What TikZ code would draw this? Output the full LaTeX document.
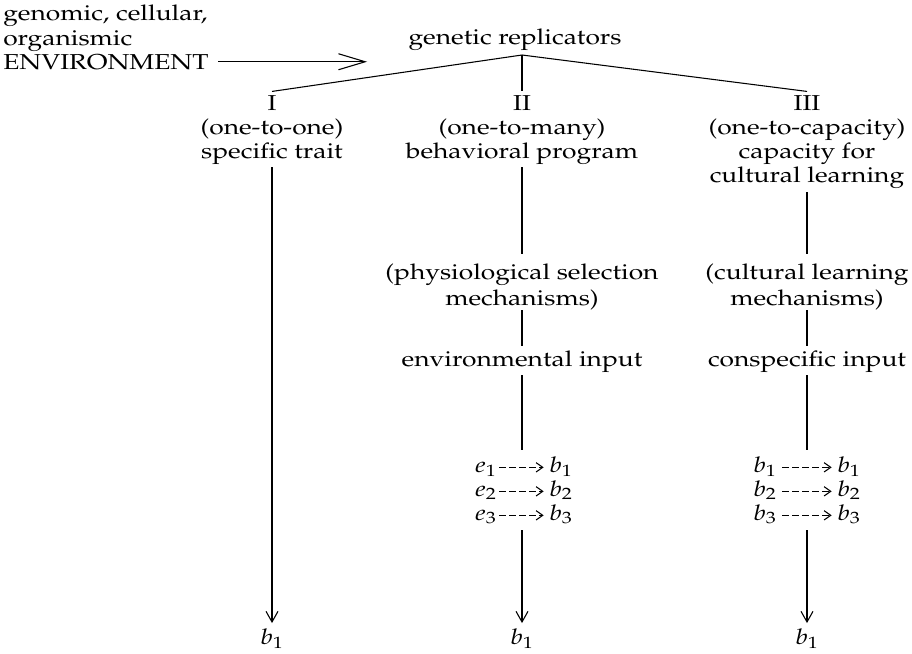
\documentclass[tikz,border=0pt]{standalone}
\usepackage[T1]{fontenc}
\usepackage{mathpazo}
\usetikzlibrary{arrows.meta}

\begin{document}
\begin{tikzpicture}[x=0.75pt,y=-0.75pt,
    txt/.style={inner sep=0pt,anchor=base,xscale=1.22,font=\fontsize{16.2}{20}\selectfont},
    sym/.style={txt,text height=10.5pt,text depth=3.5pt},
    link/.style={line width=0.8pt},
    down/.style={link,-{Straight Barb[length=8pt,width=9pt]}},
    maps/.style={link,dash pattern=on 5pt off 2.5pt,-{Straight Barb[length=5pt,width=7pt]}}]
  \useasboundingbox (0,0) rectangle (912,653);

  % Entorno
  \node[txt,anchor=base west] (gen) at (3,21) {genomic, cellular,};
  \node[txt,anchor=base west] (org) at (3,45) {organismic};
  \node[txt,anchor=base west] (envt) at (3,69) {ENVIRONMENT};
  \coordinate (envtip) at (367,62);
  \draw[link,shorten <=7pt,-{Straight Barb[length=20pt,width=12pt]}] (envt.east) -- (envt.east -| envtip);

  % Replicadores y ramas
  \node[txt] (rep) at (515,44) {genetic replicators};
  \coordinate (apex) at (522,55);
  \node[txt] (cI) at (272,110) {I};
  \node[txt] (cII) at (522,110) {II};
  \node[txt] (cIII) at (807,110) {III};
  \draw[link] (apex) -- ([yshift=2.5pt]cI.north);
  \draw[link] (apex) -- ([yshift=2.5pt]cII.north);
  \draw[link] (apex) -- ([yshift=2.5pt]cIII.north);

  % Columna I
  \node[txt] (oneone) at (272,134) {(one-to-one)};
  \node[txt] (trait) at (272,158) {specific trait};
  \node[sym] (outI) at (272,644) {$b_1$};
  \draw[down,shorten <=2pt,shorten >=5pt] (trait.south) -- (trait.south |- outI.north);

  % Columna II
  \node[txt] (onemany) at (522,134) {(one-to-many)};
  \node[txt] (prog) at (522,158) {behavioral program};
  \node[txt] (phys) at (522,279) {(physiological selection};
  \node[txt] (mechII) at (522,305) {mechanisms)};
  \node[txt] (envin) at (522,366) {environmental input};
  \foreach \i/\y in {1/472,2/496,3/520}{
    \node[sym,anchor=base east] (e\i) at (497,\y) {$e_{\i}$};
    \node[sym,anchor=base west] (f\i) at (549,\y) {$b_{\i}$};
    \draw[maps,shorten <=1.5pt,shorten >=4pt] (e\i.east) -- (f\i.west);
  }
  \node[sym] (outII) at (522,644) {$b_1$};
  \draw[link,shorten <=2pt,shorten >=6.5pt] (prog.south) -- (phys.north);
  \draw[link,shorten <=0.5pt,shorten >=3pt] (mechII.south) -- (envin.north);
  \draw[link,shorten <=2pt,shorten >=6pt] (envin.south) -- (envin.south |- e1.north);
  \draw[down,shorten <=4pt,shorten >=5pt] (outII |- e3.south) -- (outII.north);

  % Columna III
  \node[txt] (onecap) at (807,134) {(one-to-capacity)};
  \node[txt] (capfor) at (807,158) {capacity for};
  \node[txt] (cult) at (807,182) {cultural learning};
  \node[txt] (clm) at (807,279) {(cultural learning};
  \node[txt] (mechIII) at (807,305) {mechanisms)};
  \node[txt] (consp) at (807,366) {conspecific input};
  \foreach \i/\y in {1/472,2/496,3/520}{
    \node[sym,anchor=base east] (g\i) at (777,\y) {$b_{\i}$};
    \node[sym,anchor=base west] (h\i) at (837,\y) {$b_{\i}$};
    \draw[maps,shorten <=4pt,shorten >=4pt] (g\i.east) -- (h\i.west);
  }
  \node[sym] (outIII) at (807,644) {$b_1$};
  \draw[link,shorten <=3pt,shorten >=6.5pt] (cult.south) -- (clm.north);
  \draw[link,shorten <=0.5pt,shorten >=3pt] (mechIII.south) -- (consp.north);
  \draw[link,shorten <=2pt,shorten >=6pt] (consp.south) -- (consp.south |- g1.north);
  \draw[down,shorten <=4pt,shorten >=5pt] (outIII |- g3.south) -- (outIII.north);
\end{tikzpicture}
\end{document}
